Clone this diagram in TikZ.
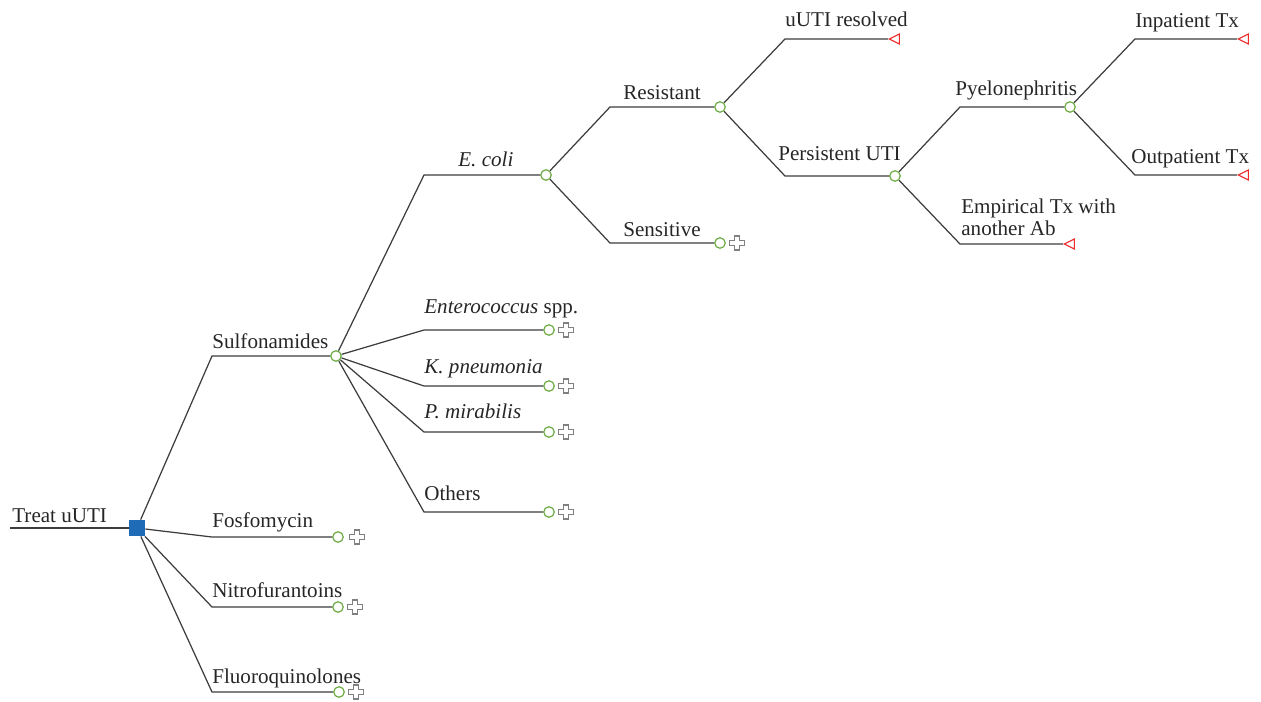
\documentclass[tikz,border=0pt]{standalone}
\usepackage{fontspec}
\setmainfont{Liberation Serif}
\usetikzlibrary{shapes.geometric}
\definecolor{nodeblue}{HTML}{1F6BB5}
\definecolor{chancegreen}{HTML}{70AD47}
\definecolor{endred}{HTML}{EE2B2B}
\definecolor{branchgray}{HTML}{3C3C3C}
\tikzset{% 
	decision/.style={rectangle,fill=nodeblue,minimum size=0.32cm,inner sep=0pt}
}
\tikzset{% 
	chance/.style={circle,draw=chancegreen,line width=0.7pt,fill=white,minimum size=0.21cm,inner sep=0pt}
}
\tikzset{% 
	terminal/.style={isosceles triangle,shape border rotate=180,isosceles triangle stretches,draw=endred,line width=0.6pt,minimum width=0.2cm,minimum height=0.2cm,inner sep=0pt,anchor=apex}
}
\tikzset{% 
	branch/.style={draw=branchgray,line width=0.7pt}
}
\tikzset{% 
	label_text/.style={anchor=base west,inner sep=0pt,font=\fontsize{12}{14}\selectfont,text=black!85}
}
\tikzset{% 
	expand/.pic={\draw[gray,line width=0.7pt] (-2.6,-7)--(2.6,-7)--(2.6,-2.6)--(7.6,-2.6)--(7.6,2.6)--(2.6,2.6)--(2.6,7)--(-2.6,7)--(-2.6,2.6)--(-7.6,2.6)--(-7.6,-2.6)--(-2.6,-2.6)--cycle;}
}

\begin{document}
\begin{tikzpicture}[x=0.02cm,y=-0.02cm]
		\useasboundingbox (0,0) rectangle (1261,701);

		%Root
		\coordinate (start) at (10,528);
		\node [decision] (treat) at (137,528) {};
		\draw [branch] (start)--(treat);
		\node [label_text] (treat_lbl) at (12,522) {Treat uUTI};

		%First level
		\coordinate (sulfa_in) at (212,356);
		\coordinate (fosfo_in) at (212,537);
		\coordinate (nitro_in) at (212,607);
		\coordinate (fluoro_in) at (212,692);
		\node [chance] (sulfa) at (336,356) {};
		\node [chance] (fosfo) at (338,537) {};
		\node [chance] (nitro) at (338,607) {};
		\node [chance] (fluoro) at (339,692) {};
		\draw [branch] (treat)--(sulfa_in)--(sulfa);
		\draw [branch] (treat)--(fosfo_in)--(fosfo);
		\draw [branch] (treat)--(nitro_in)--(nitro);
		\draw [branch] (treat)--(fluoro_in)--(fluoro);
		\pic at ([xshift=0.38cm]fosfo) {expand};
		\pic at ([xshift=0.34cm]nitro) {expand};
		\pic at ([xshift=0.34cm]fluoro) {expand};
		\node [label_text] (sulfa_lbl) at (212,348) {Sulfonamides};
		\node [label_text] (fosfo_lbl) at (212,527) {Fosfomycin};
		\node [label_text] (nitro_lbl) at (212,597) {Nitrofurantoins};
		\node [label_text] (fluoro_lbl) at (212,683) {Fluoroquinolones};

		%Organisms
		\coordinate (ecoli_in) at (424,175);
		\coordinate (entero_in) at (424,330);
		\coordinate (kpneu_in) at (424,386);
		\coordinate (pmira_in) at (424,432);
		\coordinate (others_in) at (424,512);
		\node [chance] (ecoli) at (546,175) {};
		\node [chance] (entero) at (549,330) {};
		\node [chance] (kpneu) at (549,386) {};
		\node [chance] (pmira) at (549,432) {};
		\node [chance] (others) at (549,512) {};
		\draw [branch] (sulfa)--(ecoli_in)--(ecoli);
		\draw [branch] (sulfa)--(entero_in)--(entero);
		\draw [branch] (sulfa)--(kpneu_in)--(kpneu);
		\draw [branch] (sulfa)--(pmira_in)--(pmira);
		\draw [branch] (sulfa)--(others_in)--(others);
		\pic at ([xshift=0.34cm]entero) {expand};
		\pic at ([xshift=0.34cm]kpneu) {expand};
		\pic at ([xshift=0.34cm]pmira) {expand};
		\pic at ([xshift=0.34cm]others) {expand};
		\node [label_text] (ecoli_lbl) at (458,166) {\textit{E. coli}};
		\node [label_text] (entero_lbl) at (424,313) {\textit{Enterococcus} spp.};
		\node [label_text] (kpneu_lbl) at (424,373) {\textit{K. pneumonia}};
		\node [label_text] (pmira_lbl) at (424,418) {\textit{P. mirabilis}};
		\node [label_text] (others_lbl) at (424,500) {Others};

		%Susceptibility
		\coordinate (resist_in) at (610,107);
		\coordinate (sensit_in) at (610,243);
		\node [chance] (resist) at (720,107) {};
		\node [chance] (sensit) at (720,243) {};
		\draw [branch] (ecoli)--(resist_in)--(resist);
		\draw [branch] (ecoli)--(sensit_in)--(sensit);
		\pic at ([xshift=0.34cm]sensit) {expand};
		\node [label_text] (resist_lbl) at (623,99) {Resistant};
		\node [label_text] (sensit_lbl) at (623,236) {Sensitive};

		%Outcome of resistance
		\coordinate (resolved_in) at (785,39);
		\coordinate (persist_in) at (785,176);
		\node [terminal] (resolved) at (888,39) {};
		\node [chance] (persist) at (895,176) {};
		\draw [branch] (resist)--(resolved_in)--(resolved.apex);
		\draw [branch] (resist)--(persist_in)--(persist);
		\node [label_text] (resolved_lbl) at (785,26) {uUTI resolved};
		\node [label_text] (persist_lbl) at (778,160) {Persistent UTI};

		%Persistent UTI
		\coordinate (pyelo_in) at (960,107);
		\coordinate (empiric_in) at (960,244);
		\node [chance] (pyelo) at (1070,107) {};
		\node [terminal] (empiric) at (1063,244) {};
		\draw [branch] (persist)--(pyelo_in)--(pyelo);
		\draw [branch] (persist)--(empiric_in)--(empiric.apex);
		\node [label_text] (pyelo_lbl) at (955,95) {Pyelonephritis};
		\node [label_text] (empiric_lbl) at (961,213) {Empirical Tx with};
		\node [label_text] (empiric_lbl2) at (961,235) {another Ab};

		%Pyelonephritis
		\coordinate (inpat_in) at (1135,39);
		\coordinate (outpat_in) at (1135,175);
		\node [terminal] (inpat) at (1237,39) {};
		\node [terminal] (outpat) at (1237,175) {};
		\draw [branch] (pyelo)--(inpat_in)--(inpat.apex);
		\draw [branch] (pyelo)--(outpat_in)--(outpat.apex);
		\node [label_text] (inpat_lbl) at (1135,27) {Inpatient Tx};
		\node [label_text] (outpat_lbl) at (1131,163) {Outpatient Tx};

	\end{tikzpicture}
\end{document}
